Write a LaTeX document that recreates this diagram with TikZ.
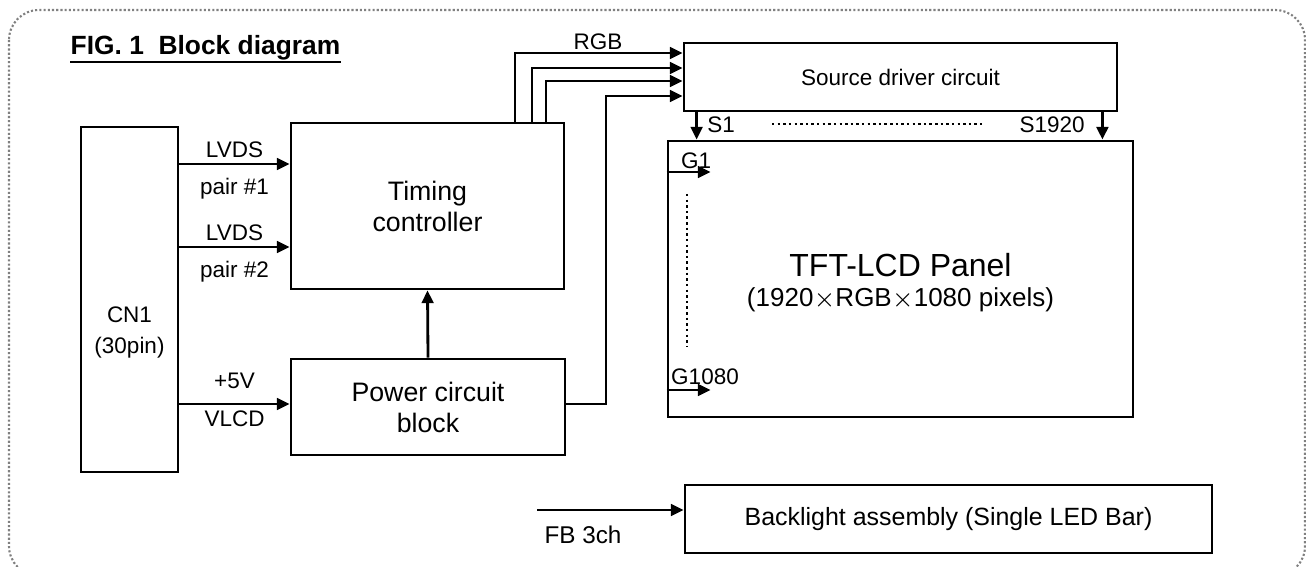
\documentclass[tikz,border=0pt]{standalone}
\usepackage{fontspec}
\setmainfont{Liberation Sans}
\usetikzlibrary{arrows.meta,calc}

\tikzset{
    blk/.style={draw, line width=0.8pt, inner sep=0pt, align=center},
    sig/.style={line width=0.8pt, -{Triangle[length=3.6pt,width=3.3pt]}},
    lbl/.style={font=\fontsize{6.4}{7.6}\selectfont, inner sep=0pt},
    big/.style={font=\fontsize{7.6}{8.8}\selectfont},
    dots/.style={line width=0.8pt, dash pattern=on 0.7pt off 0.9pt},
}

\begin{document}
\begin{tikzpicture}
    \useasboundingbox (0,0) rectangle (13.06,5.66);
    % frame
    \draw[gray, line width=0.6pt, dash pattern=on 0.6pt off 0.6pt, rounded corners=0.3cm]
        (0.09,5.56) rectangle (13.05,-0.10);

    \node[anchor=base west, inner sep=0pt, font=\bfseries\fontsize{7.5}{9}\selectfont] (ttl) at (0.70,5.11) {FIG. 1\ \ Block diagram};
    \draw[line width=0.6pt] ([yshift=-2pt]ttl.base west) -- ([yshift=-2pt]ttl.base east);

    % blocks
    \node[blk, minimum width=0.97cm, minimum height=3.45cm] (CN) at (1.295,2.665) {};
    \node[lbl, align=center] at ($(CN.center)+(0,-0.33)$) {CN1\\[1pt](30pin)};
    \node[blk, big, minimum width=2.73cm, minimum height=1.66cm] (TC) at (4.275,3.60) {Timing\\controller};
    \node[blk, big, minimum width=2.74cm, minimum height=0.96cm] (PW) at (4.28,1.59) {Power circuit\\block};
    \node[blk, lbl, minimum width=4.33cm, minimum height=0.68cm] (SD) at (9.005,4.89) {Source driver circuit};
    \node[blk, minimum width=4.65cm, minimum height=2.76cm] (PNL) at (9.005,2.87) {};
    \node[inner sep=0pt, font=\fontsize{9.1}{10}\selectfont] (ttft) at (9.005,3.01) {TFT-LCD Panel};
    \node[inner sep=0pt, font=\fontsize{7.4}{8.5}\selectfont] (tpix) at (9.005,2.66) {(1920$\times$RGB$\times$1080 pixels)};
    \node[blk, font=\fontsize{7.1}{8}\selectfont, minimum width=5.27cm, minimum height=0.68cm] (BL) at (9.485,0.47) {Backlight assembly (Single LED Bar)};

    % inputs
    \draw[sig] (CN.east |- 0,4.02) -- (TC.west |- 0,4.02)
        node[lbl, midway, above=1.4pt] {LVDS} node[lbl, midway, below=3.7pt] {pair \#1};
    \draw[sig] (CN.east |- 0,3.19) -- (TC.west |- 0,3.19)
        node[lbl, midway, above=1.4pt] {LVDS} node[lbl, midway, below=3.7pt] {pair \#2};
    \draw[sig] (CN.east |- 0,1.62) -- (PW.west |- 0,1.62)
        node[lbl, midway, above=4pt] {+5V} node[lbl, midway, below=1.6pt] {VLCD};
    \draw[sig] (PW.north) -- (TC.south);

    % RGB bus
    \draw[sig] ([xshift=8.75mm]TC.north) |- ([yshift=2.4mm]SD.west);
    \draw[sig] ([xshift=10.45mm]TC.north) |- ([yshift=0.9mm]SD.west);
    \draw[sig] ([xshift=11.85mm]TC.north) |- ([yshift=-0.4mm]SD.west);
    \draw[sig] (PW.east |- 0,1.62) -- (6.06,1.62) |- ([yshift=-1.9mm]SD.west);
    \node[lbl] at (5.98,5.24) {RGB};

    % source lines
    \coordinate (S1) at ([xshift=1.4mm]SD.south west);
    \coordinate (SN) at ([xshift=-1.6mm]SD.south east);
    \draw[sig] (S1) -- (S1 |- PNL.north);
    \draw[sig] (SN) -- (SN |- PNL.north);
    \node[lbl] at (7.21,4.41) {S1};
    \node[lbl] at (10.52,4.41) {S1920};
    \draw[dots] (7.72,4.42) -- (9.82,4.42);

    % gate lines
    \draw[sig] ([yshift=10.7mm]PNL.west) -- ++(0.44,0);
    \draw[sig] ([yshift=-11.1mm]PNL.west) -- ++(0.44,0);
    \node[lbl] at (6.96,4.05) {G1};
    \node[lbl] at (7.05,1.89) {G1080};
    \draw[dots] (6.87,3.72) -- (6.87,2.19);

    % backlight
    \coordinate (FB) at (5.37,0.56);
    \draw[sig] (FB) -- (FB -| BL.west);
    \node[lbl, font=\fontsize{6.9}{8}\selectfont] at (5.83,0.31) {FB 3ch};
\end{tikzpicture}
\end{document}
